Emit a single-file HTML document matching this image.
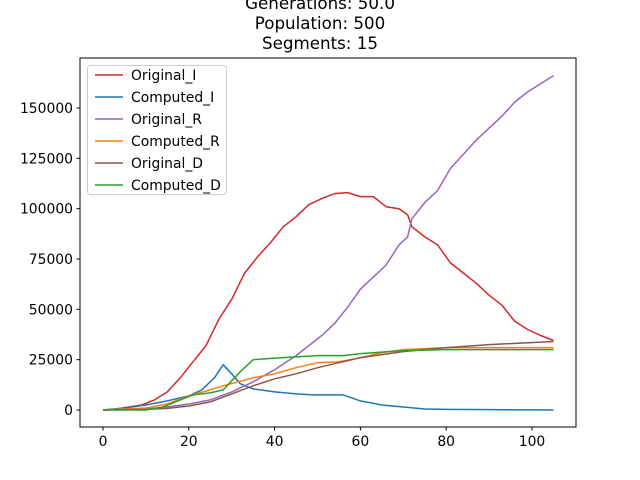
<!DOCTYPE html>
<html><head><meta charset="utf-8"><style>
body{margin:0;background:#fff;}
svg{display:block;font-family:"DejaVu Sans","Liberation Sans",sans-serif;}
</style></head><body>
<svg id="chart" width="640" height="480">
<g id="title" font-size="16.7" text-anchor="middle" fill="#000">
<text x="320" y="9">Generations: 50.0</text>
<text x="320" y="29">Population: 500</text>
<text x="320" y="49">Segments: 15</text>
</g>
<g id="plot"></g>
<rect x="80" y="58" width="496" height="369" fill="none" stroke="#000" stroke-width="1"/>
<g id="axes" font-size="13.9" fill="#000"></g>
<g id="legend"></g>
</svg>
<script>
const xTicks=[0,20,40,60,80,100];
const yTicks=[0,25000,50000,75000,100000,125000,150000];
const names=["Original_I","Computed_I","Original_R","Computed_R","Original_D","Computed_D"];
const colors=["#d62728","#1f77b4","#9467bd","#ff7f0e","#8c564b","#2ca02c"];
const origIx=[0,3,6,9,12,15,18,21,24,27,30,33,36,39,42,45,48,51,54,57,60,63,66,69,71,72,75,78,81,84,87,90,93,96,99,102,105];
const origIy=[0,0.5,1.5,2.5,5,9,16,24,32,45,55,68,76,83,91,96,102,105,107.5,108,106,106,101,100,97,91,86,82,73,68,63,57,52,44,40,37,34.5];
const compIx=[0,5,10,15,20,23,26,28,30,32,35,40,45,49,56,60,65,70,75,80,105];
const compIy=[0,1,2.5,4.5,7,10,16,22.5,18,13,10.5,9,8,7.5,7.5,4.5,2.5,1.5,0.5,0.3,0];
const origRx=[0,10,15,20,25,30,35,40,45,48,51,54,57,60,63,66,69,71,72,75,78,81,84,87,90,93,96,99,102,105];
const origRy=[0,0.5,1.5,3,5,9,14,20,27,32,37,43,51,60,66,72,82,86,95,103,109,120,127,134,140,146,153,158,162,166];
const compRx=[0,10,15,20,25,28,35,40,45,50,55,60,65,70,80,105];
const compRy=[0,1,3,7,10,12,16,18,21,23.5,24,26,28.5,30,31,31];
const origDx=[0,10,15,20,25,30,35,40,45,50,55,60,65,70,80,90,105];
const origDy=[0,0.3,0.8,2,4,8,12,15.5,18,21,23.5,26,27.5,29,31,32.5,34];
const compDx=[0,10,14,18,21,25,28,32,35,40,50,56,60,70,80,105];
const compDy=[0,0,1.5,5,7.5,8.5,10,19,25,25.8,27,27,28,29.5,30,30];
const seriesX=[origIx,compIx,origRx,compRx,origDx,compDx];
const seriesY=[origIy,compIy,origRy,compRy,origDy,compDy];
const NS="http://www.w3.org/2000/svg";
const xs=v=>103+v*4.29;
const ys=v=>410-v*302/150000;
function mk(t,a,p){const e=document.createElementNS(NS,t);for(const k in a)e.setAttribute(k,a[k]);p.appendChild(e);return e;}
const plot=document.getElementById('plot'),axes=document.getElementById('axes'),leg=document.getElementById('legend');
[0,1,2,3,4,5].forEach(i=>{
 const pts=seriesX[i].map((x,j)=>xs(x).toFixed(1)+","+ys(seriesY[i][j]*1000).toFixed(1)).join(" ");
 const l=mk('polyline',{points:pts,fill:'none',stroke:colors[i],'stroke-width':1.5,'stroke-linejoin':'round'},plot);
 
 
});
xTicks.forEach(v=>{
 const t=mk('line',{x1:xs(v),x2:xs(v),y1:427,y2:430.5,stroke:'#000'},axes);
 
 const s=mk('text',{x:xs(v),y:446,'text-anchor':'middle'},axes);s.textContent=v;
 
});
yTicks.forEach(v=>{
 const t=mk('line',{x1:76.5,x2:80,y1:ys(v),y2:ys(v),stroke:'#000'},axes);
 
 const s=mk('text',{x:73,y:ys(v)+5,'text-anchor':'end'},axes);s.textContent=v;
 
});
const box=mk('rect',{x:87.5,y:65.5,width:139,height:129,rx:3,fill:'#fff','fill-opacity':0.8,stroke:'#ccc'},leg);

names.forEach((n,i)=>{
 const y=75+i*22;
 const l=mk('line',{x1:95,x2:123,y1:y,y2:y,stroke:colors[i],'stroke-width':1.5},leg);
 
 const t=mk('text',{x:131,y:y+5,'font-size':13.9},leg);t.textContent=n;
 
});
</script>
</body></html>
